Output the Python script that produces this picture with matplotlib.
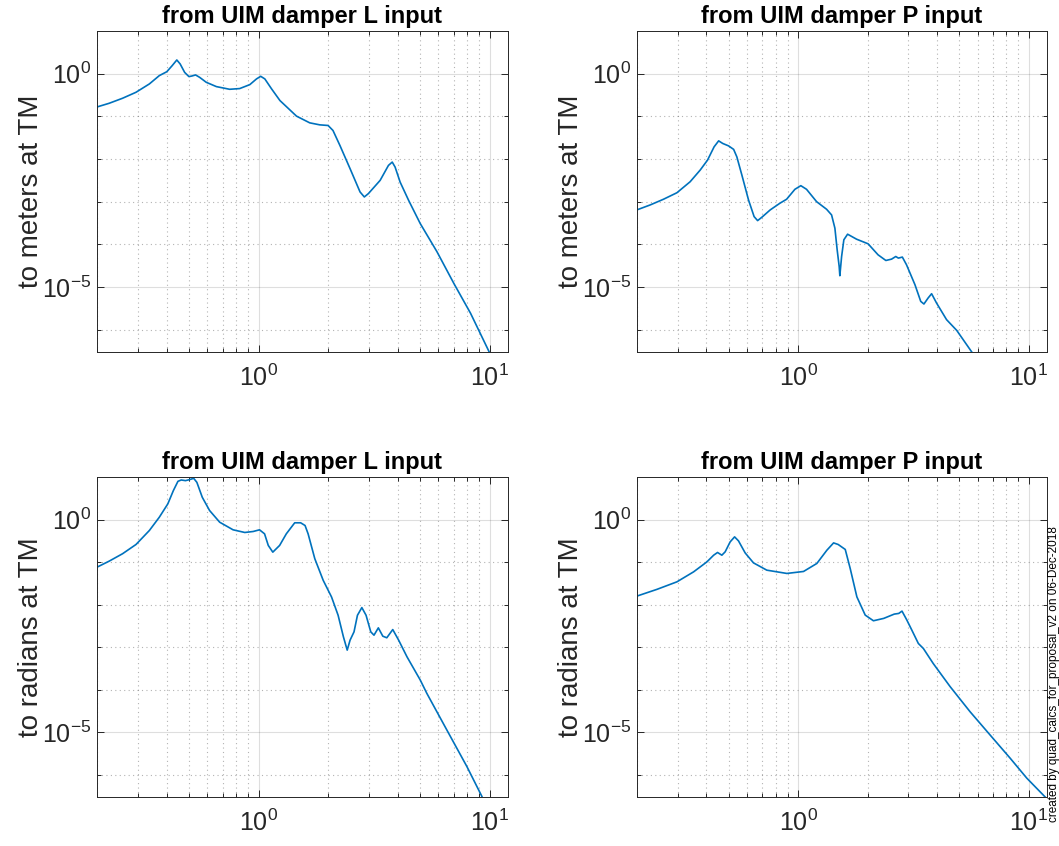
import numpy as np
import matplotlib
matplotlib.use('Agg')
import matplotlib.pyplot as plt
from matplotlib.ticker import NullFormatter, LogFormatterSciNotation

plt.rcParams['font.family'] = ['Liberation Sans', 'DejaVu Sans']
plt.rcParams['mathtext.fontset'] = 'custom'
plt.rcParams['mathtext.rm'] = 'Liberation Sans'
plt.rcParams['mathtext.it'] = 'Liberation Sans:italic'
plt.rcParams['mathtext.bf'] = 'Liberation Sans:bold'
plt.rcParams['mathtext.default'] = 'regular'
plt.rcParams['axes.unicode_minus'] = False

# values (frequency in Hz, magnitude)
# L input -> meters
freq_LL = [0.198, 0.2257, 0.258, 0.295, 0.337, 0.372, 0.401, 0.423, 0.443, 0.458,
           0.479, 0.500, 0.516, 0.534, 0.556, 0.594, 0.657, 0.750, 0.829, 0.917,
           0.980, 1.022, 1.065, 1.139, 1.238, 1.460, 1.666, 1.841, 2.0, 2.10,
           2.25, 2.49, 2.75, 2.87, 2.99, 3.36, 3.65, 3.79, 3.90, 4.10,
           4.46, 5.01, 5.92, 7.00, 8.27, 9.94]
mag_LL = [0.163, 0.202, 0.265, 0.366, 0.574, 0.898, 1.11, 1.54, 2.09, 1.685,
          1.07, 0.851, 0.883, 0.932, 0.82, 0.627, 0.497, 0.430, 0.447, 0.553,
          0.752, 0.866, 0.752, 0.439, 0.234, 0.101, 0.0703, 0.0631, 0.061, 0.0466,
          0.0208, 5.93e-3, 1.69e-3, 1.29e-3, 1.55e-3, 3.16e-3, 7.08e-3, 8.47e-3, 6.47e-3, 2.88e-3,
          1.08e-3, 3.07e-4, 6.70e-5, 1.22e-5, 2.43e-6, 3.08e-7]

# P input -> meters
freq_LP = [0.1995, 0.228, 0.2606, 0.298, 0.340, 0.376, 0.4045, 0.432, 0.452, 0.471,
           0.499, 0.525, 0.542, 0.570, 0.609, 0.644, 0.667, 0.696, 0.756, 0.833,
           0.891, 0.968, 1.027, 1.087, 1.202, 1.328, 1.396, 1.443, 1.476, 1.506,
           1.516, 1.543, 1.578, 1.638, 1.792, 2.01, 2.22, 2.40, 2.54, 2.65,
           2.72, 2.83, 2.95, 3.21, 3.40, 3.51, 3.66, 3.79, 3.98, 4.40,
           4.87, 5.66]
mag_LP = [6.4e-4, 8.37e-4, 1.14e-3, 1.62e-3, 2.93e-3, 5.51e-3, 9.42e-3, 0.0193, 0.0266, 0.0231,
          0.0203, 0.0168, 0.01125, 4.2e-3, 1.1e-3, 4.47e-4, 3.6e-4, 4.32e-4, 6.4e-4, 9.18e-4,
          1.14e-3, 1.95e-3, 2.37e-3, 1.95e-3, 1.0e-3, 6.64e-4, 4.89e-4, 2.39e-4, 7.44e-5, 3.03e-5,
          1.84e-5, 5.19e-5, 1.28e-4, 1.73e-4, 1.32e-4, 1.03e-4, 5.69e-5, 4.19e-5, 4.5e-5, 5.19e-5,
          4.76e-5, 5.03e-5, 3.32e-5, 1.13e-5, 4.61e-6, 4.0e-6, 5.53e-6, 6.97e-6, 4.23e-6, 1.72e-6,
          9.64e-7, 3.00e-7]

# L input -> radians
freq_PL = [0.198, 0.2257, 0.258, 0.295, 0.337, 0.372, 0.405, 0.428, 0.448, 0.463,
           0.483, 0.503, 0.524, 0.541, 0.571, 0.614, 0.679, 0.776, 0.872, 0.948,
           1.01, 1.062, 1.102, 1.153, 1.234, 1.319, 1.434, 1.522, 1.590, 1.639,
           1.752, 1.905, 2.07, 2.21, 2.33, 2.42, 2.49, 2.59, 2.68, 2.80,
           2.92, 3.06, 3.16, 3.30, 3.45, 3.59, 3.81, 4.04, 4.39, 5.01,
           5.35, 6.53, 7.97, 9.26]
mag_PL = [0.0738, 0.105, 0.157, 0.259, 0.552, 1.13, 2.33, 4.78, 7.9, 8.5,
          8.2, 8.66, 9.3, 7.48, 3.33, 1.63, 0.865, 0.573, 0.496, 0.523,
          0.573, 0.461, 0.246, 0.171, 0.246, 0.461, 0.837, 0.837, 0.723, 0.461,
          0.120, 0.0372, 0.0151, 5.62e-3, 1.75e-3, 8.51e-4, 1.46e-3, 2.29e-3, 5.62e-3, 8.51e-3,
          5.62e-3, 2.29e-3, 1.91e-3, 2.84e-3, 1.81e-3, 1.66e-3, 2.59e-3, 1.46e-3, 5.93e-4, 1.69e-4,
          8.2e-5, 1.13e-5, 1.57e-6, 3.10e-7]

# P input -> radians
freq_PP = [0.1995, 0.244, 0.298, 0.352, 0.402, 0.430, 0.447, 0.4667, 0.4824, 0.507,
           0.530, 0.551, 0.589, 0.640, 0.731, 0.893, 1.055, 1.205, 1.332, 1.424,
           1.491, 1.60, 1.681, 1.797, 1.953, 2.12, 2.35, 2.61, 2.73, 2.82,
           2.96, 3.11, 3.32, 3.49, 3.85, 4.56, 5.56, 6.79, 8.30, 9.80,
           11.78]
mag_PP = [0.0158, 0.0228, 0.0343, 0.0589, 0.101, 0.145, 0.168, 0.145, 0.174, 0.298,
          0.391, 0.315, 0.164, 0.0957, 0.0645, 0.054, 0.0601, 0.0927, 0.19, 0.282,
          0.259, 0.198, 0.0708, 0.0152, 5.67e-3, 4.17e-3, 4.74e-3, 5.98e-3, 6.2e-3, 7.03e-3,
          4.33e-3, 2.52e-3, 1.22e-3, 9.31e-4, 4.14e-4, 1.18e-4, 3.05e-5, 8.66e-6, 2.46e-6, 8.35e-7,
          3.00e-7]

titles = ['from UIM damper L input', 'from UIM damper P input']
ylabels = ['to meters at TM', 'to radians at TM']
x_major = [1, 10]
y_major = [1, 1e-5]
y_minor = [1e-1, 1e-2, 1e-3, 1e-4, 1e-6]
x_minor = [0.2, 0.3, 0.4, 0.5, 0.6, 0.7, 0.8, 0.9, 2, 3, 4, 5, 6, 7, 8, 9]
xlim = (0.2, 12)
ylim = (3e-7, 10)
footer = 'created by quad_calcs_for_proposal_v2 on 06-Dec-2018'

line_color = '#0072BD'
axis_color = '#262626'


def style_axes(ax, title, ylabel):
    ax.set_xscale('log')
    ax.set_yscale('log')
    ax.set_xlim(*xlim)
    ax.set_ylim(*ylim)
    ax.set_xticks(x_major)
    ax.set_xticks(x_minor, minor=True)
    ax.set_yticks(y_major)
    ax.set_yticks(y_minor, minor=True)
    ax.xaxis.set_major_formatter(LogFormatterSciNotation())
    ax.yaxis.set_major_formatter(LogFormatterSciNotation())
    ax.xaxis.set_minor_formatter(NullFormatter())
    ax.yaxis.set_minor_formatter(NullFormatter())
    ax.grid(True, which='major', color=axis_color, alpha=0.15, lw=0.8, ls='-')
    ax.grid(True, which='minor', color=axis_color, alpha=0.35, lw=0.8, ls=(0, (1, 3)))
    ax.set_axisbelow(True)
    ax.tick_params(which='both', direction='in', top=True, right=True,
                   color=axis_color, labelcolor=axis_color, width=0.7)
    ax.tick_params(which='major', length=5, labelsize=18)
    ax.tick_params(axis='x', which='major', pad=9)
    ax.tick_params(axis='y', which='major', pad=4)
    ax.tick_params(which='minor', length=3)
    for s in ax.spines.values():
        s.set_color(axis_color)
        s.set_linewidth(0.7)
    ax.set_title(title, fontsize=17, fontweight='bold', pad=6)
    ax.set_ylabel(ylabel, fontsize=20, color=axis_color, labelpad=-1)


fig = plt.figure(figsize=(10.59, 8.46), dpi=100)
positions = [[0.0916, 0.5839, 0.388, 0.3795], [0.6015, 0.5839, 0.3872, 0.3795],
             [0.0916, 0.0579, 0.388, 0.3783], [0.6015, 0.0579, 0.3872, 0.3783]]
series = [(freq_LL, mag_LL), (freq_LP, mag_LP), (freq_PL, mag_PL), (freq_PP, mag_PP)]

for i, (pos, (f, m)) in enumerate(zip(positions, series)):
    ax = fig.add_axes(pos)
    ax.plot(f, m, color=line_color, lw=1.2)
    style_axes(ax, titles[i % 2], ylabels[i // 2])

fig.text(0.9955, 0.028, footer, rotation=90, fontsize=8.5, ha='center', va='bottom',
         color='black')

fig.savefig('out.png', dpi=100)
